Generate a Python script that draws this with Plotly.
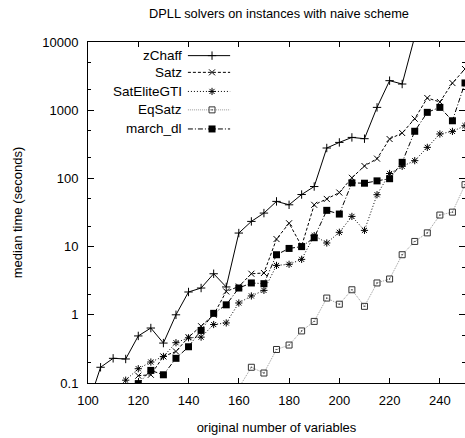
import plotly.graph_objects as go

x_zchaff = [100, 105, 110, 115, 120, 125, 130, 135, 140, 145, 150, 155, 160, 165, 170, 175, 180, 185, 190, 195, 200, 205, 210, 215, 220, 225, 230]
y_zchaff = [0.047, 0.17, 0.23, 0.225, 0.49, 0.64, 0.385, 1.0, 2.16, 2.47, 4.0, 2.56, 15.8, 23.4, 31, 46, 41, 58, 76, 279, 337, 399, 382, 1100, 2710, 2420, 12000]

x_satz = [120, 125, 130, 135, 140, 145, 150, 155, 160, 165, 170, 175, 180, 185, 190, 195, 200, 205, 210, 215, 220, 225, 230, 235, 240, 245, 250]
y_satz = [0.128, 0.132, 0.245, 0.29, 0.47, 0.68, 1.0, 2.2, 2.6, 4.0, 4.1, 12.9, 22, 10.2, 41, 50, 62, 102, 152, 195, 378, 463, 750, 1510, 1320, 2500, 4020]

x_satelite = [115, 120, 125, 130, 135, 140, 145, 150, 155, 160, 165, 170, 175, 180, 185, 190, 195, 200, 205, 210, 215, 220, 225, 230, 235, 240, 245, 250]
y_satelite = [0.11, 0.162, 0.203, 0.245, 0.39, 0.46, 0.47, 0.72, 0.76, 1.49, 1.89, 2.28, 5.3, 5.5, 6.5, 14.5, 11.3, 16.2, 27.7, 17.3, 57.7, 118, 150, 182, 285, 448, 489, 593]

x_eqsatz = [160, 165, 170, 175, 180, 185, 190, 195, 200, 205, 210, 215, 220, 225, 230, 235, 240, 245, 250]
y_eqsatz = [0.085, 0.17, 0.14, 0.31, 0.36, 0.58, 0.80, 1.76, 1.43, 2.33, 1.33, 2.93, 3.35, 7.6, 11.9, 15.9, 29, 32, 81]

x_march = [120, 125, 130, 135, 140, 145, 150, 155, 160, 165, 170, 175, 180, 185, 190, 195, 200, 205, 210, 215, 220, 225, 230, 235, 240, 245, 250]
y_march = [0.098, 0.153, 0.132, 0.23, 0.34, 0.59, 1.05, 1.4, 2.47, 2.93, 2.86, 7.6, 9.4, 10, 13.5, 34, 30, 86, 85, 92, 99, 172, 491, 930, 1100, 700, 2510]

series_names = ["zChaff", "Satz", "SatEliteGTI", "EqSatz", "march_dl"]
x_ticks = [100, 120, 140, 160, 180, 200, 220, 240]
y_ticks = [0.1, 1, 10, 100, 1000, 10000]
y_tick_labels = ["0.1", "1", "10", "100", "1000", "10000"]
y_minor = [0.2, 0.5, 2, 5, 20, 50, 200, 500, 2000, 5000]

FONT = "Liberation Sans, Arial, sans-serif"

styles = [
    dict(line=dict(color="black", width=1, dash="solid"),
         marker=dict(symbol="cross-thin", size=6, color="black", line=dict(color="black", width=1))),
    dict(line=dict(color="black", width=1, dash="3px,2px"),
         marker=dict(symbol="x-thin", size=6, color="black", line=dict(color="black", width=1))),
    dict(line=dict(color="black", width=1, dash="1px,2px"),
         marker=dict(symbol="asterisk-open", size=6, color="black", line=dict(color="black", width=1))),
    dict(line=dict(color="#999999", width=1, dash="1px,1px"),
         marker=dict(symbol="square-open-dot", size=6, color="#333333", line=dict(color="#333333", width=1))),
    dict(line=dict(color="black", width=1, dash="5px,2px,1px,2px"),
         marker=dict(symbol="square", size=7, color="black", line=dict(color="black", width=0))),
]

data = [(x_zchaff, y_zchaff), (x_satz, y_satz), (x_satelite, y_satelite), (x_eqsatz, y_eqsatz), (x_march, y_march)]

fig = go.Figure()
for (xs, ys), name, st in zip(data, series_names, styles):
    fig.add_trace(go.Scatter(x=xs, y=ys, mode="lines+markers", name=name,
                             line=st["line"], marker=st["marker"], showlegend=False,
                             cliponaxis=True))

# custom legend (symbol to the right of right-aligned text), drawn on an overlay axis
leg_y = [0.960, 0.911, 0.855, 0.801, 0.745]
for name, st, ly in zip(series_names, styles, leg_y):
    fig.add_trace(go.Scatter(x=[0.265, 0.377], y=[ly, ly], mode="lines", line=st["line"],
                             xaxis="x2", yaxis="y2", showlegend=False, hoverinfo="skip"))
    fig.add_trace(go.Scatter(x=[0.329], y=[ly], mode="markers", marker=st["marker"],
                             xaxis="x2", yaxis="y2", showlegend=False, hoverinfo="skip"))
    fig.add_annotation(x=0.255, y=ly, xref="paper", yref="paper", text=name,
                       showarrow=False, xanchor="right", yanchor="middle",
                       font=dict(family=FONT, size=13.5, color="black"))

fig.update_layout(
    width=465, height=438,
    margin=dict(l=88, r=0, t=42, b=55),
    paper_bgcolor="white", plot_bgcolor="white",
    font=dict(family=FONT, size=13, color="black"),
    title=dict(text="DPLL solvers on instances with naive scheme", x=0.6, xanchor="center",
               y=0.968, yanchor="middle", font=dict(family=FONT, size=12.8, color="black")),
    xaxis=dict(range=[100, 250], tickvals=x_ticks, ticks="inside", ticklen=5, tickwidth=1,
               tickcolor="black", showline=True, linecolor="black", linewidth=1, mirror="ticks",
               showgrid=False, zeroline=False, ticklabelstandoff=5,
               title=dict(text="original number of variables", standoff=16,
                          font=dict(family=FONT, size=13))),
    yaxis=dict(type="log", range=[-1, 4], tickvals=y_ticks, ticktext=y_tick_labels,
               ticks="inside", ticklen=6, tickwidth=1, tickcolor="black",
               showline=True, linecolor="black", linewidth=1, mirror="ticks",
               showgrid=False, zeroline=False, ticklabelstandoff=6,
               minor=dict(tickvals=y_minor, ticks="inside", ticklen=3, tickcolor="black", showgrid=False),
               title=dict(text="median time (seconds)", standoff=16,
                          font=dict(family=FONT, size=13))),
    xaxis2=dict(overlaying="x", range=[0, 1], visible=False),
    yaxis2=dict(overlaying="y", range=[0, 1], visible=False),
)

fig.write_html("out.html")
